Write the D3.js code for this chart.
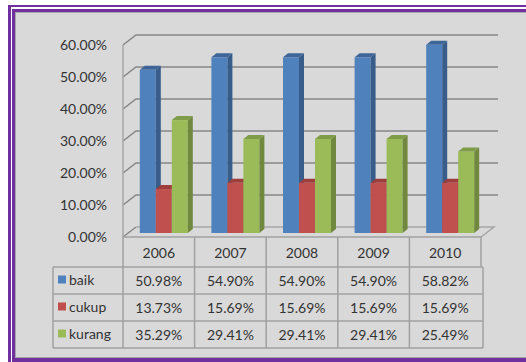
<!DOCTYPE html>
<html>
<head>
<meta charset="utf-8">
<script src="https://cdn.jsdelivr.net/npm/d3@7/dist/d3.min.js"></script>
<style>
  body { margin: 0; background: #fff; }
  svg { display: block; }
  text { font-family: Lato, "Open Sans", sans-serif; fill: #333; }
</style>
</head>
<body>
<div class="canvas"></div>
<script>
// data
var years = ['2006', '2007', '2008', '2009', '2010'];
var seriesNames = ['baik', 'cukup', 'kurang'];
var baik = [0.5098, 0.5490, 0.5490, 0.5490, 0.5882];
var cukup = [0.1373, 0.1569, 0.1569, 0.1569, 0.1569];
var kurang = [0.3529, 0.2941, 0.2941, 0.2941, 0.2549];
var yTicks = [0, 0.1, 0.2, 0.3, 0.4, 0.5, 0.6];

var values = [baik, cukup, kurang];
var frontCol = ['#4f81bd', '#c0504d', '#9bbb59'],
    sideCol = ['#385d8a', '#8c3836', '#71893f'],
    topCol = ['#3e6598', '#9c3f3c', '#7f9c48'];

var width = 526, height = 362;

var svg = d3.select('.canvas').append('svg')
    .attr('width', width)
    .attr('height', height);

// double purple frame, then the grey chart area
svg.append('rect').attr('x', 8).attr('y', 5).attr('width', 600).attr('height', 400).attr('fill', '#7030a0');
svg.append('rect').attr('x', 11).attr('y', 7).attr('width', 600).attr('height', 400).attr('fill', '#fff');
svg.append('rect').attr('x', 12).attr('y', 9).attr('width', 600).attr('height', 400).attr('fill', '#7030a0');
svg.append('rect').attr('x', 15.5).attr('y', 12.5).attr('width', 600).attr('height', 345)
    .attr('fill', '#d9d9d9').attr('stroke', '#a6a6a6').attr('stroke-width', 1);

// 3d geometry
var dx = 13, dy = -10;
var left = 123, right = 481;

var x = d3.scaleBand().domain(years).range([left, right]);
var y = d3.scaleLinear().domain([0, 0.6]).range([237, 45]);   // front edge
var yb = d3.scaleLinear().domain([0, 0.6]).range([233, 41]);  // bar faces

var grid = svg.append('g');

// gridlines on the left wall and back wall
grid.selectAll('path.grid')
    .data(yTicks)
    .enter()
    .append('path')
    .attr('class', 'grid')
    .attr('fill', 'none')
    .attr('stroke', '#868686')
    .attr('stroke-width', 1.5)
    .attr('d', function (d) {
        return 'M' + left + ',' + y(d) + 'L' + (left + dx) + ',' + (y(d) + dy) +
            (d === 0 ? '' : 'L' + (right + 17) + ',' + (y(d) + dy));
    });

// floor
grid.append('path')
    .attr('fill', 'none')
    .attr('stroke', '#a6a6a6')
    .attr('stroke-width', 1.5)
    .attr('d', 'M' + (left + dx) + ',' + (y(0) + dy) + 'L' + (right + dx) + ',' + (y(0) + dy) +
        'L' + right + ',' + y(0));

// left wall edge
grid.append('line')
    .attr('x1', left).attr('x2', left)
    .attr('y1', y(0.6)).attr('y2', y(0))
    .attr('stroke', '#a6a6a6').attr('stroke-width', 1.5);

// y labels
svg.selectAll('text.ylab')
    .data(yTicks)
    .enter()
    .append('text')
    .attr('class', 'ylab')
    .attr('x', 107)
    .attr('y', function (d) { return y(d) + 5; })
    .attr('text-anchor', 'end')
    .attr('font-size', 14)
    .text(function (d) { return (d * 100).toFixed(2) + '%'; });

// bars
var barW = 16, depthX = 5, depthY = 4;
var bars = [];
years.forEach(function (yr, i) {
    values.forEach(function (s, k) {
        bars.push({ year: yr, k: k, v: s[i] });
    });
});

var bx = function (d) {
    return x(d.year) + (x.bandwidth() - 3 * barW) / 2 + 5 + d.k * barW;
};

var barG = svg.selectAll('g.bar')
    .data(bars)
    .enter()
    .append('g')
    .attr('class', 'bar');

barG.append('rect')
    .attr('x', bx)
    .attr('y', function (d) { return yb(d.v); })
    .attr('width', barW)
    .attr('height', function (d) { return yb(0) - yb(d.v); })
    .attr('fill', function (d) { return frontCol[d.k]; });

barG.append('path')
    .attr('fill', function (d) { return sideCol[d.k]; })
    .attr('d', function (d) {
        var x1 = bx(d) + barW, t = yb(d.v), b = yb(0);
        return 'M' + x1 + ',' + t + 'L' + (x1 + depthX) + ',' + (t - depthY) +
            'L' + (x1 + depthX) + ',' + (b - depthY) + 'L' + x1 + ',' + b + 'Z';
    });

barG.append('path')
    .attr('fill', function (d) { return topCol[d.k]; })
    .attr('d', function (d) {
        var x0 = bx(d), t = yb(d.v);
        return 'M' + x0 + ',' + t + 'L' + (x0 + depthX) + ',' + (t - depthY) +
            'L' + (x0 + barW + depthX) + ',' + (t - depthY) + 'L' + (x0 + barW) + ',' + t + 'Z';
    });

// data table
var rowTop = 267, rowH = 27, headTop = 237, legendLeft = 53;
var tableBottom = rowTop + rowH * 3;
var tbl = svg.append('g')
    .attr('stroke', '#a0a0a0')
    .attr('stroke-width', 1.5);

// horizontal lines
tbl.append('line').attr('x1', left).attr('x2', right).attr('y1', headTop).attr('y2', headTop);
d3.range(4).forEach(function (r) {
    tbl.append('line')
        .attr('x1', legendLeft).attr('x2', right + 2)
        .attr('y1', rowTop + r * rowH).attr('y2', rowTop + r * rowH);
});
// vertical lines
years.forEach(function (yr) {
    tbl.append('line')
        .attr('x1', x(yr)).attr('x2', x(yr))
        .attr('y1', headTop).attr('y2', tableBottom);
});
tbl.append('line').attr('x1', right).attr('x2', right).attr('y1', headTop).attr('y2', rowTop);
tbl.append('line').attr('x1', right + 2).attr('x2', right + 2).attr('y1', rowTop).attr('y2', tableBottom);
tbl.append('line').attr('x1', legendLeft).attr('x2', legendLeft).attr('y1', rowTop).attr('y2', tableBottom);

// header
svg.selectAll('text.year')
    .data(years)
    .enter()
    .append('text')
    .attr('class', 'year')
    .attr('x', function (d) { return x(d) + x.bandwidth() / 2; })
    .attr('y', headTop + 21)
    .attr('text-anchor', 'middle')
    .attr('font-size', 14)
    .text(function (d) { return d; });

// legend keys and cells
seriesNames.forEach(function (name, k) {
    var cy = rowTop + k * rowH + rowH / 2;
    svg.append('rect')
        .attr('x', 58).attr('y', cy - 5)
        .attr('width', 8).attr('height', 8)
        .attr('fill', frontCol[k]);
    svg.append('text')
        .attr('x', 69).attr('y', cy + 4)
        .attr('font-size', 14)
        .text(name);
    svg.selectAll('text.cell' + k)
        .data(values[k])
        .enter()
        .append('text')
        .attr('x', function (d, i) { return x(years[i]) + x.bandwidth() / 2; })
        .attr('y', cy + 5)
        .attr('text-anchor', 'middle')
        .attr('font-size', 14)
        .text(function (d) { return (d * 100).toFixed(2) + '%'; });
});
</script>
</body>
</html>
